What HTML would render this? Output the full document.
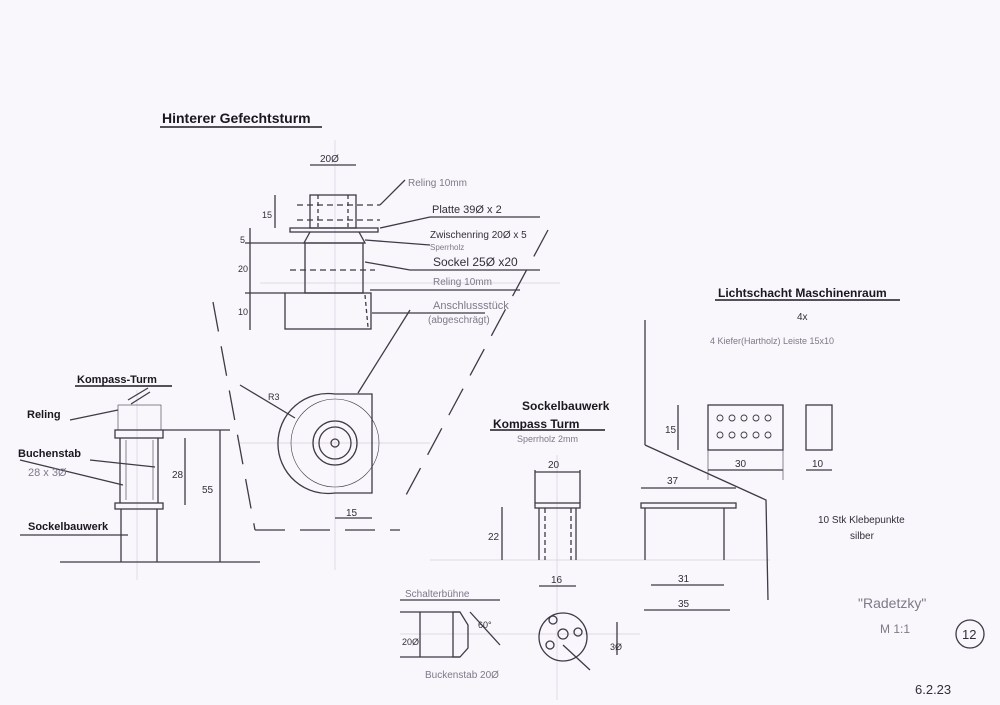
<!DOCTYPE html>
<html><head><meta charset="utf-8"><style>
html,body{margin:0;padding:0;background:#f9f6fc}
svg{display:block}
text{font-family:"Liberation Sans",sans-serif;fill:#332f3a}
.b{font-weight:bold;fill:#1a171e}
.g{fill:#7f7989}
</style></head><body>
<svg width="1000" height="705" viewBox="0 0 1000 705" xmlns="http://www.w3.org/2000/svg">
<rect width="1000" height="705" fill="#f9f6fc"/>
<g stroke="#d8d0de" stroke-width="0.7" fill="none">
<line x1="335" y1="140" x2="335" y2="570"/>
<line x1="240" y1="443" x2="430" y2="443"/>
<line x1="137" y1="390" x2="137" y2="580"/>
<line x1="557" y1="455" x2="557" y2="700"/>
<line x1="430" y1="560" x2="770" y2="560"/>
<line x1="400" y1="634" x2="640" y2="634"/>
<line x1="260" y1="283" x2="560" y2="283"/>
</g>
<g stroke="#3f3a46" stroke-width="1.3" fill="none">
<rect x="310" y="195" width="46" height="33"/>
<line x1="318" y1="195" x2="318" y2="228" stroke-dasharray="4,3"/>
<line x1="348" y1="195" x2="348" y2="228" stroke-dasharray="4,3"/>
<line x1="297" y1="205" x2="380" y2="205" stroke-dasharray="6,4"/>
<line x1="297" y1="220" x2="380" y2="220" stroke-dasharray="6,4"/>
<rect x="290" y="228" width="88" height="4"/>
<path d="M310 232 L304 243 L365 243 L359 232"/>
<rect x="305" y="243" width="58" height="50"/>
<line x1="290" y1="270" x2="375" y2="270" stroke-dasharray="6,4"/>
<rect x="285" y="293" width="86" height="36"/>
<line x1="365" y1="295" x2="368" y2="327" stroke-dasharray="4,3"/>
<line x1="310" y1="165" x2="356" y2="165"/>
<line x1="275" y1="195" x2="275" y2="228"/>
<line x1="250" y1="228" x2="250" y2="330"/>
<line x1="245" y1="243" x2="305" y2="243"/>
<line x1="245" y1="293" x2="285" y2="293"/>
<path d="M380 205 L405 180 M380 228 L430 217 L540 217 M365 240 L430 245 M365 262 L410 270 L540 270 M370 290 L430 290 L520 290 M372 313 L410 313 L485 313"/>
<path d="M335 394 A50 50 0 1 0 335 493 L372 493 L372 394 Z"/>
<circle cx="335" cy="443" r="44" stroke-width="0.6"/>
<circle cx="335" cy="443" r="22"/>
<circle cx="335" cy="443" r="16"/>
<circle cx="335" cy="443" r="4"/>
<line x1="240" y1="385" x2="295" y2="418"/>
<line x1="358" y1="393" x2="410" y2="310"/>
<line x1="335" y1="518" x2="372" y2="518"/>
<line x1="213" y1="302" x2="255" y2="530" stroke-dasharray="30,15"/>
<line x1="548" y1="230" x2="405" y2="497" stroke-dasharray="30,15"/>
<line x1="255" y1="530" x2="400" y2="530" stroke-dasharray="30,15"/>
<line x1="128" y1="400" x2="148" y2="388"/><line x1="131" y1="404" x2="150" y2="392"/>
<rect x="118" y="405" width="43" height="25" stroke-width="0.6"/>
<rect x="115" y="430" width="48" height="8"/>
<line x1="120" y1="438" x2="120" y2="503"/><line x1="158" y1="438" x2="158" y2="503"/>
<line x1="126" y1="440" x2="126" y2="500" stroke-width="0.6"/><line x1="153" y1="440" x2="153" y2="500" stroke-width="0.6"/>
<rect x="115" y="503" width="48" height="6"/>
<line x1="121" y1="509" x2="121" y2="562"/><line x1="157" y1="509" x2="157" y2="562"/>
<line x1="60" y1="562" x2="260" y2="562"/>
<line x1="185" y1="438" x2="185" y2="505"/>
<line x1="220" y1="430" x2="220" y2="562"/>
<line x1="163" y1="430" x2="230" y2="430"/>
<path d="M70 420 L118 410 M20 460 L123 485 M90 460 L155 467 M20 535 L128 535"/>
<rect x="535" y="503" width="45" height="5"/>
<line x1="539" y1="508" x2="539" y2="560"/><line x1="576" y1="508" x2="576" y2="560"/>
<line x1="545" y1="508" x2="545" y2="560" stroke-dasharray="5,3"/><line x1="571" y1="508" x2="571" y2="560" stroke-dasharray="5,3"/>
<line x1="535" y1="472" x2="580" y2="472"/><line x1="535" y1="470" x2="535" y2="503"/><line x1="580" y1="470" x2="580" y2="503"/>
<line x1="502" y1="507" x2="502" y2="560"/>
<line x1="539" y1="586" x2="576" y2="586"/>
<rect x="641" y="503" width="95" height="5"/>
<line x1="645" y1="508" x2="645" y2="560"/><line x1="724" y1="508" x2="724" y2="560"/>
<line x1="641" y1="488" x2="736" y2="488"/>
<line x1="651" y1="585" x2="724" y2="585"/>
<line x1="644" y1="610" x2="730" y2="610"/>
<path d="M645 445 L645 320 M645 445 L766 500 L768 600"/>
<line x1="400" y1="600" x2="500" y2="600"/>
<path d="M453 612 L460 612 L468 625 L468 648 L460 657 L453 657 Z"/>
<line x1="420" y1="612" x2="420" y2="657"/>
<line x1="400" y1="612" x2="460" y2="612"/><line x1="400" y1="657" x2="460" y2="657"/>
<line x1="470" y1="612" x2="500" y2="645"/>
<circle cx="563" cy="637" r="24"/>
<circle cx="563" cy="634" r="5"/>
<circle cx="553" cy="620" r="4"/><circle cx="578" cy="632" r="4"/><circle cx="550" cy="645" r="4"/>
<line x1="617" y1="622" x2="617" y2="655"/>
<line x1="563" y1="645" x2="590" y2="670"/>
<rect x="708" y="405" width="75" height="45"/>
<rect x="806" y="405" width="26" height="45"/>
<line x1="678" y1="405" x2="678" y2="450"/>
<line x1="708" y1="470" x2="783" y2="470"/>
<line x1="806" y1="470" x2="832" y2="470"/>
<line x1="708" y1="450" x2="708" y2="480" stroke-width="0.6"/><line x1="783" y1="450" x2="783" y2="480" stroke-width="0.6"/>
<circle cx="970" cy="634" r="14"/>
</g>
<g fill="none" stroke="#3f3a46" stroke-width="0.9">
<circle cx="720" cy="418" r="3"/><circle cx="732" cy="418" r="3"/><circle cx="744" cy="418" r="3"/><circle cx="756" cy="418" r="3"/><circle cx="768" cy="418" r="3"/>
<circle cx="720" cy="435" r="3"/><circle cx="732" cy="435" r="3"/><circle cx="744" cy="435" r="3"/><circle cx="756" cy="435" r="3"/><circle cx="768" cy="435" r="3"/>
</g>
<g stroke="#1e1b22" stroke-width="1.4">
<line x1="160" y1="127" x2="322" y2="127"/>
<line x1="75" y1="386" x2="172" y2="386"/>
<line x1="490" y1="430" x2="605" y2="430"/>
<line x1="715" y1="300" x2="900" y2="300"/>
</g>
<text x="162" y="123" font-size="14" class="b">Hinterer Gefechtsturm</text>
<text x="320" y="162" font-size="10">20Ø</text>
<text x="408" y="186" font-size="10" class="g">Reling 10mm</text>
<text x="432" y="213" font-size="11">Platte 39Ø x 2</text>
<text x="430" y="238" font-size="10">Zwischenring 20Ø x 5</text>
<text x="430" y="250" font-size="8" class="g">Sperrholz</text>
<text x="433" y="266" font-size="12">Sockel 25Ø x20</text>
<text x="433" y="285" font-size="10" class="g">Reling 10mm</text>
<text x="433" y="309" font-size="11" class="g">Anschlussstück</text>
<text x="428" y="323" font-size="10" class="g">(abgeschrägt)</text>
<text x="262" y="218" font-size="9">15</text><text x="240" y="243" font-size="9">5</text><text x="238" y="272" font-size="9">20</text><text x="238" y="315" font-size="9">10</text>
<text x="268" y="400" font-size="9">R3</text>
<text x="346" y="516" font-size="10">15</text>
<text x="77" y="383" font-size="11" class="b">Kompass-Turm</text>
<text x="27" y="418" font-size="11" class="b">Reling</text>
<text x="18" y="457" font-size="11" class="b">Buchenstab</text>
<text x="28" y="476" font-size="11" class="g">28 x 3Ø</text>
<text x="28" y="530" font-size="11" class="b">Sockelbauwerk</text>
<text x="172" y="478" font-size="10">28</text>
<text x="202" y="493" font-size="10">55</text>
<text x="522" y="410" font-size="12" class="b">Sockelbauwerk</text>
<text x="493" y="428" font-size="12" class="b">Kompass Turm</text>
<text x="517" y="442" font-size="9" class="g">Sperrholz 2mm</text>
<text x="548" y="468" font-size="10">20</text>
<text x="488" y="540" font-size="10">22</text>
<text x="551" y="583" font-size="10">16</text>
<text x="667" y="484" font-size="10">37</text>
<text x="678" y="582" font-size="10">31</text>
<text x="678" y="607" font-size="10">35</text>
<text x="405" y="597" font-size="10" class="g">Schalterbühne</text>
<text x="402" y="645" font-size="9">20Ø</text>
<text x="478" y="628" font-size="9">60°</text>
<text x="610" y="650" font-size="9">3Ø</text>
<text x="425" y="678" font-size="10" class="g">Buckenstab 20Ø</text>
<text x="718" y="297" font-size="12" class="b">Lichtschacht Maschinenraum</text>
<text x="797" y="320" font-size="10">4x</text>
<text x="710" y="344" font-size="9" class="g">4  Kiefer(Hartholz) Leiste  15x10</text>
<text x="665" y="433" font-size="10">15</text>
<text x="735" y="467" font-size="10">30</text>
<text x="812" y="467" font-size="10">10</text>
<text x="818" y="523" font-size="10">10 Stk  Klebepunkte</text>
<text x="850" y="539" font-size="10">silber</text>
<text x="858" y="608" font-size="14" class="g">"Radetzky"</text>
<text x="880" y="633" font-size="12" class="g">M 1:1</text>
<text x="962" y="639" font-size="13">12</text>
<text x="915" y="694" font-size="13">6.2.23</text>
</svg>
</body></html>
